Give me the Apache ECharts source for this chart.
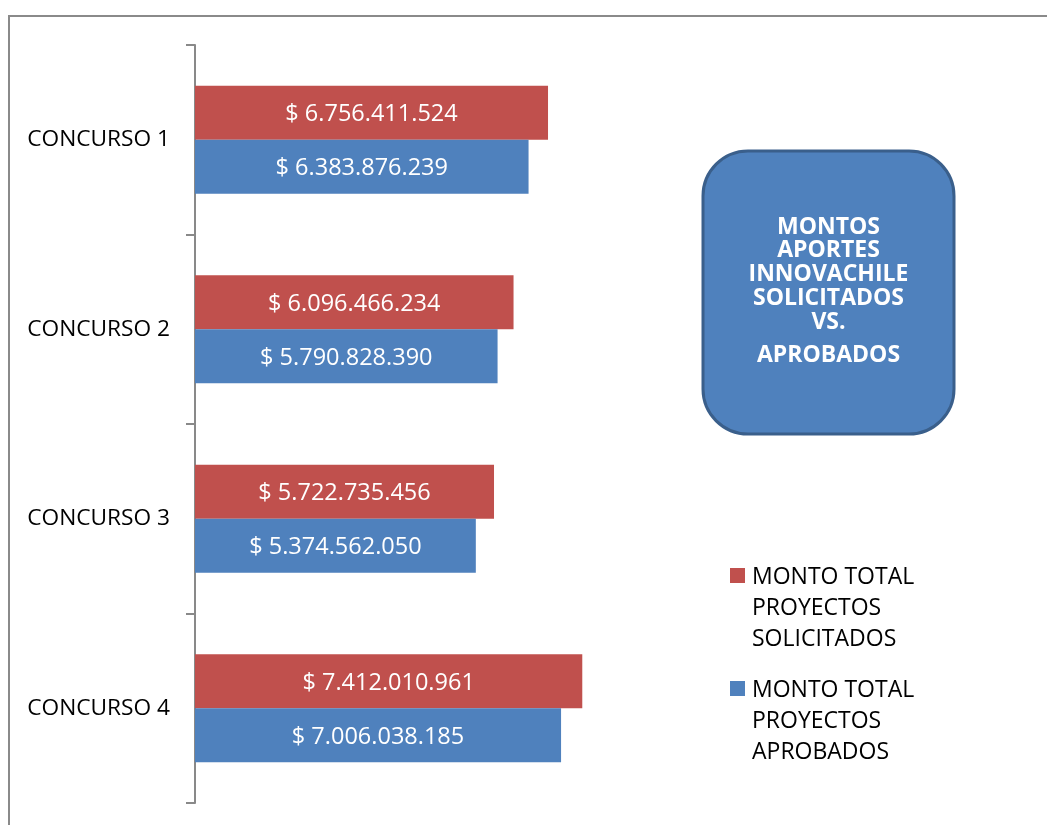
<!DOCTYPE html>
<html>
<head>
<meta charset="utf-8">
<style>
  html, body { margin: 0; padding: 0; background: #ffffff; }
  #chart { width: 1047px; height: 825px; }
</style>
<script src="https://cdn.jsdelivr.net/npm/echarts@6/dist/echarts.min.js"></script>
</head>
<body>
<div id="chart"></div>
<script>
var categories = ['CONCURSO 1', 'CONCURSO 2', 'CONCURSO 3', 'CONCURSO 4'];
var solicitados = [6756411524, 6096466234, 5722735456, 7412010961];
var aprobados = [6383876239, 5790828390, 5374562050, 7006038185];
var seriesNames = ['MONTO TOTAL PROYECTOS SOLICITADOS', 'MONTO TOTAL PROYECTOS APROBADOS'];
var legendLines = [['MONTO TOTAL', 'PROYECTOS', 'SOLICITADOS'], ['MONTO TOTAL', 'PROYECTOS', 'APROBADOS']];
var titleLines = ['MONTOS', 'APORTES', 'INNOVACHILE', 'SOLICITADOS', 'VS.'];
var titleLast = 'APROBADOS';

var RED = '#C0504D', BLUE = '#4F81BD';
var FONT = 'Open Sans';

function fmt(v) {
  return '$ ' + String(v).replace(/\B(?=(\d{3})+(?!\d))/g, '.');
}

var chart = echarts.init(document.getElementById('chart'), null, { renderer: 'canvas' });

var barLabel = {
  show: true,
  position: 'inside',
  offset: [0, 2],
  color: '#ffffff',
  fontFamily: FONT,
  fontSize: 23.5,
  formatter: function (p) { return fmt(p.value); }
};

var option = {
  backgroundColor: '#ffffff',
  animation: false,
  grid: { left: 195, top: 45, width: 418, height: 758, containLabel: false },
  xAxis: { type: 'value', min: 0, max: 8000000000, show: false },
  yAxis: {
    type: 'category',
    data: categories,
    inverse: true,
    axisLine: { show: true, lineStyle: { color: '#898989', width: 2 } },
    axisTick: { show: true, length: 9, lineStyle: { color: '#898989', width: 2 } },
    axisLabel: { margin: 25, color: '#000000', fontFamily: FONT, fontSize: 22.7, padding: [2, 0, 0, 0] },
    splitLine: { show: false }
  },
  legend: { show: false },
  series: [
    {
      name: seriesNames[0], type: 'bar', data: solicitados,
      barGap: '0%', barCategoryGap: '43%',
      itemStyle: { color: RED }, label: barLabel
    },
    {
      name: seriesNames[1], type: 'bar', data: aprobados,
      barGap: '0%', barCategoryGap: '43%',
      itemStyle: { color: BLUE }, label: barLabel
    }
  ],
  graphic: [
    {
      type: 'rect', silent: true, z: -1,
      shape: { x: 9, y: 16, width: 1200, height: 1000 },
      style: { fill: 'none', stroke: '#8a8a8a', lineWidth: 2 }
    },
    {
      type: 'rect',
      shape: { x: 703, y: 151, width: 251, height: 283, r: 45 },
      style: { fill: BLUE, stroke: '#3A5F8B', lineWidth: 3 }
    },
    {
      type: 'text',
      x: 828.5, y: 274.5,
      style: {
        text: titleLines.join('\n'),
        fill: '#ffffff', font: 'bold 23px "Open Sans"', lineHeight: 23.75,
        align: 'center', verticalAlign: 'middle'
      }
    },
    {
      type: 'text',
      x: 828.5, y: 355,
      style: {
        text: titleLast,
        fill: '#ffffff', font: 'bold 23px "Open Sans"',
        align: 'center', verticalAlign: 'middle'
      }
    },
    {
      type: 'rect', shape: { x: 730, y: 568, width: 15, height: 15 }, style: { fill: RED }
    },
    {
      type: 'text', x: 752, y: 608,
      style: {
        text: legendLines[0].join('\n'), fill: '#000000',
        font: '23px "Open Sans"', lineHeight: 31,
        align: 'left', verticalAlign: 'middle'
      }
    },
    {
      type: 'rect', shape: { x: 730, y: 681, width: 15, height: 15 }, style: { fill: BLUE }
    },
    {
      type: 'text', x: 752, y: 721,
      style: {
        text: legendLines[1].join('\n'), fill: '#000000',
        font: '23px "Open Sans"', lineHeight: 31,
        align: 'left', verticalAlign: 'middle'
      }
    }
  ]
};

chart.setOption(option);
</script>
</body>
</html>
